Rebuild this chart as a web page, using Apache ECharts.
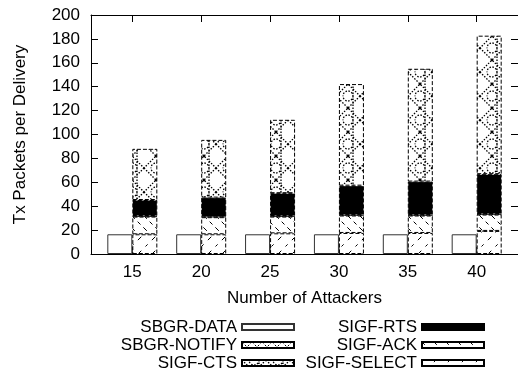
<!DOCTYPE html>
<html>
<head>
<meta charset="utf-8">
<script src="https://cdn.jsdelivr.net/npm/echarts@6/dist/echarts.min.js"></script>
<style>
  html, body { margin: 0; padding: 0; background: #fff; }
  #chart { width: 518px; height: 370px; }
</style>
</head>
<body>
<div id="chart"></div>
<script>
// attackers on the x axis
const attackers = [15, 20, 25, 30, 35, 40]
const yTicks = [0, 20, 40, 60, 80, 100, 120, 140, 160, 180, 200]

// values
const sbgrData   = [16.5, 16.5, 16.5, 16.5, 16.5, 16.5]
const sigfSelect = [16.5, 16.5, 17.3, 17.6, 17.6, 19.3]
const sigfAck    = [14.8, 14.3, 14.0, 14.6, 14.6, 13.7]
const sbgrNotify = [0.5, 0.5, 0.5, 0.5, 0.5, 0.5]
const sigfRts    = [13.4, 15.9, 19.1, 24.5, 27.9, 33.3]
const sigfCts    = [42.8, 48.3, 61.4, 85.0, 94.4, 115.9]

const FONT = '"Liberation Sans", Arial, Helvetica, sans-serif'

// frame: x runs 12..43 over the plot, bars sit in a band grid lined up with it
const xMin = 12
const xMax = 43
const plotLeft = 91
const plotRight = 518
const pxPerUnit = (plotRight - plotLeft) / (xMax - xMin)
const step = attackers[1] - attackers[0]
const barsLeft = plotLeft + (attackers[0] - xMin - step / 2) * pxPerUnit
const barsRight = plotLeft + (attackers[attackers.length - 1] - xMin + step / 2) * pxPerUnit

// gnuplot like fill patterns
const makePattern = (size, draw) => {
    const c = document.createElement('canvas')
    c.width = size
    c.height = size
    const g = c.getContext('2d')
    g.fillStyle = '#fff'
    g.fillRect(0, 0, size, size)
    g.strokeStyle = '#000'
    g.fillStyle = '#000'
    g.lineWidth = 1
    draw(g, size)
    return { image: c, repeat: 'repeat' }
}

const ctsPattern = makePattern(24, (g, s) => {
    g.lineWidth = 1.3
    g.setLineDash([1.5, 1.5])
    g.beginPath()
    g.moveTo(0, 0); g.lineTo(s, s)
    g.moveTo(s, 0); g.lineTo(0, s)
    g.stroke()
    g.setLineDash([1.5, 1.5])
    g.beginPath()
    g.arc(s / 2, 0, 5, 0, Math.PI * 2)
    g.arc(s / 2, s, 5, 0, Math.PI * 2)
    g.stroke()
    g.beginPath()
    g.arc(s / 2, s / 2, 1.2, 0, Math.PI * 2)
    g.fill()
})
const notifyPattern = makePattern(10, (g, s) => {
    g.setLineDash([2, 2])
    g.beginPath()
    g.moveTo(0, 0); g.lineTo(s, s)
    g.moveTo(s, 0); g.lineTo(0, s)
    g.stroke()
})
const ackPattern = makePattern(12, (g, s) => {
    g.setLineDash([4, 4])
    g.beginPath()
    g.moveTo(0, 0); g.lineTo(s, s)
    g.stroke()
})
const selectPattern = makePattern(14, (g, s) => {
    g.setLineDash([3, 6])
    g.beginPath()
    g.moveTo(s, 0); g.lineTo(0, s)
    g.stroke()
})

const dashedBorder = { borderColor: '#000', borderWidth: 1, borderType: 'dashed' }

const stackSeries = (name, vals, color) => ({
    name: name,
    type: 'bar',
    stack: 'sigf',
    barWidth: 25,
    barGap: '0%',
    data: vals,
    itemStyle: Object.assign({ color: color }, dashedBorder),
    emphasis: { disabled: true }
})

const legendText = { fontFamily: FONT, fontSize: 17, lineHeight: 18, color: '#000' }
const legendBase = {
    orient: 'vertical',
    align: 'right',
    top: 313,
    height: 60,
    itemHeight: 6,
    itemGap: 0,
    icon: 'rect',
    textStyle: legendText
}

const axisLineBlack = { show: true, onZero: false, lineStyle: { color: '#000', width: 1 } }

const myChart = echarts.init(document.getElementById('chart'), null, { renderer: 'canvas' })
myChart.setOption({
    animation: false,
    grid: [
        { left: barsLeft, width: barsRight - barsLeft, top: 15, bottom: 116 },
        { left: plotLeft, right: 518 - plotRight, top: 15, bottom: 116 }
    ],
    legend: [
        Object.assign({}, legendBase, {
            right: 218,
            itemWidth: 52,
            data: ['SBGR-DATA', 'SBGR-NOTIFY', 'SIGF-CTS']
        }),
        Object.assign({}, legendBase, {
            right: 28,
            itemWidth: 62,
            data: ['SIGF-RTS', 'SIGF-ACK', 'SIGF-SELECT']
        })
    ],
    xAxis: [
        {
            gridIndex: 0,
            type: 'category',
            data: attackers,
            show: false
        },
        {
            gridIndex: 1,
            type: 'value',
            min: xMin,
            max: xMax,
            name: 'Number of Attackers',
            nameLocation: 'middle',
            nameGap: 36,
            nameTextStyle: { fontFamily: FONT, fontSize: 17, color: '#000' },
            axisLine: axisLineBlack,
            axisTick: { show: true, inside: true, length: 7, customValues: attackers, lineStyle: { color: '#000' } },
            axisLabel: { customValues: attackers, fontFamily: FONT, fontSize: 17, color: '#000', margin: 10 },
            splitLine: { show: false }
        },
        {
            gridIndex: 1,
            type: 'value',
            position: 'top',
            min: xMin,
            max: xMax,
            axisLine: axisLineBlack,
            axisTick: { show: true, inside: true, length: 7, customValues: attackers, lineStyle: { color: '#000' } },
            axisLabel: { show: false },
            splitLine: { show: false }
        }
    ],
    yAxis: [
        {
            gridIndex: 0,
            type: 'value',
            min: 0,
            max: 200,
            show: false
        },
        {
            gridIndex: 1,
            type: 'value',
            min: 0,
            max: 200,
            interval: 20,
            name: 'Tx Packets per Delivery',
            nameLocation: 'middle',
            nameGap: 62,
            nameTextStyle: { fontFamily: FONT, fontSize: 17, color: '#000' },
            axisLine: axisLineBlack,
            axisTick: { show: true, inside: true, length: 7, lineStyle: { color: '#000' } },
            axisLabel: { customValues: yTicks, fontFamily: FONT, fontSize: 17, color: '#000', margin: 11 },
            splitLine: { show: false }
        },
        {
            gridIndex: 1,
            type: 'value',
            position: 'right',
            min: 0,
            max: 200,
            interval: 20,
            axisLine: axisLineBlack,
            axisTick: { show: true, inside: true, length: 7, lineStyle: { color: '#000' } },
            axisLabel: { show: false },
            splitLine: { show: false }
        }
    ],
    series: [
        {
            name: 'SBGR-DATA',
            type: 'bar',
            stack: 'data',
            barWidth: 25,
            barGap: '0%',
            data: sbgrData,
            itemStyle: { color: '#fff', borderColor: '#333', borderWidth: 1 },
            emphasis: { disabled: true }
        },
        stackSeries('SIGF-SELECT', sigfSelect, selectPattern),
        stackSeries('SIGF-ACK', sigfAck, ackPattern),
        stackSeries('SBGR-NOTIFY', sbgrNotify, notifyPattern),
        stackSeries('SIGF-RTS', sigfRts, '#000'),
        stackSeries('SIGF-CTS', sigfCts, ctsPattern)
    ]
})
</script>
</body>
</html>
